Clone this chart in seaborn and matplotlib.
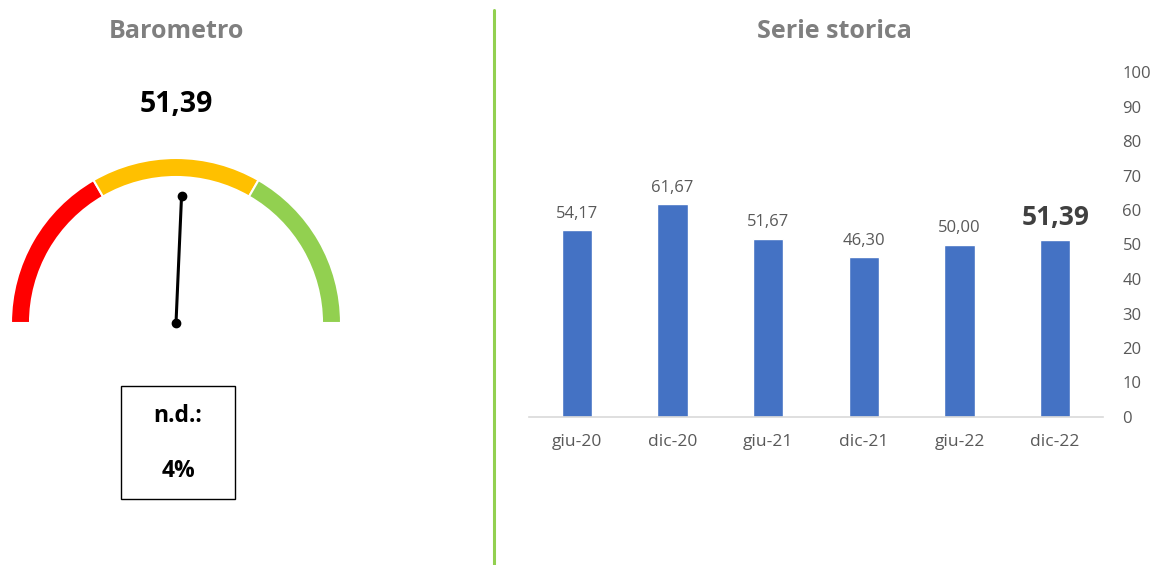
import matplotlib
matplotlib.use("Agg")
import matplotlib.pyplot as plt
import seaborn as sns
import numpy as np
from matplotlib.patches import Wedge, Rectangle
from matplotlib.lines import Line2D

# ---- data ----
categories = ["giu-20", "dic-20", "giu-21", "dic-21", "giu-22", "dic-22"]
values = [54.17, 61.67, 51.67, 46.30, 50.00, 51.39]
gauge_value = 51.39
gauge_bands = [0, 33.33, 66.67, 100]
band_colors = ["#FF0000", "#FFC000", "#92D050"]
nd_label = "n.d.:"
nd_value = "4%"
yticks = list(range(0, 101, 10))
title_left = "Barometro"
title_right = "Serie storica"

W, H = 1152, 565
sns.set_theme(style="white")
plt.rcParams['font.family'] = ['Open Sans', 'DejaVu Sans']

fig = plt.figure(figsize=(W / 100, H / 100), dpi=100)
fig.patch.set_facecolor("white")


def fmt(v):
    return f"{v:.2f}".replace(".", ",")


# ---- gauge (pixel coordinates) ----
axg = fig.add_axes([0, 0, 494 / W, 1])
axg.set_xlim(0, 494)
axg.set_ylim(0, H)
axg.axis('off')
cx, cy = 176, H - 323
R, bw = 165, 19
for lo, hi, c in zip(gauge_bands[:-1], gauge_bands[1:], band_colors):
    t1 = 180 - hi * 1.8
    t2 = 180 - lo * 1.8
    axg.add_patch(Wedge((cx, cy), R, t1, t2, width=bw, facecolor=c,
                        edgecolor='white', linewidth=1.5))
ang = np.radians(180 - gauge_value * 1.8)
L = 127
axg.plot([cx, cx + L * np.cos(ang)], [cy, cy + L * np.sin(ang)],
         color='black', lw=2.2, marker='o', ms=6, solid_capstyle='round')
axg.text(cx, H - 105, fmt(gauge_value), ha='center', va='center',
         fontsize=20.5, fontweight='bold', color='black')
axg.add_patch(Rectangle((121, H - 499), 114, 113, fill=False,
                        edgecolor='black', linewidth=1))
axg.text(178, H - 416, nd_label, ha='center', va='center', fontsize=16.5,
         fontweight='bold', color='black')
axg.text(178, H - 471, nd_value, ha='center', va='center', fontsize=16.5,
         fontweight='bold', color='black')

# titles
fig.text(176 / W, 1 - 31 / H, title_left, ha='center', va='center',
         fontsize=18, fontweight='bold', color='#7F7F7F')
fig.text(834 / W, 1 - 31 / H, title_right, ha='center', va='center',
         fontsize=18, fontweight='bold', color='#7F7F7F')

# separator
fig.add_artist(Line2D([494 / W, 494 / W], [1 - 10 / H, 0], color='#92D050',
                      lw=2.2, transform=fig.transFigure))

# ---- bar chart ----
ax = fig.add_axes([529 / W, (H - 417) / H, 574 / W, 345 / H])
sns.barplot(x=categories, y=values, color="#4472C4", width=0.32,
            saturation=1, ax=ax)
ax.set_xlim(-0.5, len(categories) - 0.5)
ax.set_ylim(0, 100)
ax.yaxis.tick_right()
ax.set_yticks(yticks)
ax.set_yticklabels([str(t) for t in yticks])
ax.tick_params(axis='y', length=0, pad=14, labelsize=12, labelcolor='#595959')
ax.tick_params(axis='x', length=0, pad=12, labelsize=12.5, labelcolor='#595959')
for s in ['left', 'top', 'right']:
    ax.spines[s].set_visible(False)
ax.spines['bottom'].set_color('#D9D9D9')
ax.spines['bottom'].set_linewidth(1.2)
ax.set_xlabel('')
ax.set_ylabel('')
ax.set_facecolor('white')

for i, v in enumerate(values):
    last = i == len(values) - 1
    ax.annotate(fmt(v), (i, v), xytext=(0, 6), textcoords='offset points',
                ha='center', va='bottom',
                fontsize=19 if last else 12,
                fontweight='bold' if last else 'normal',
                color='#404040' if last else '#595959')

fig.savefig("out.png", dpi=100, facecolor='white')
